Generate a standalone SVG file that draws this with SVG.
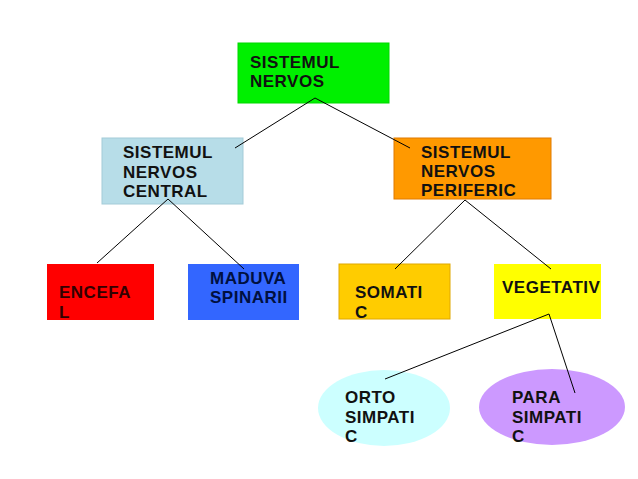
<svg xmlns="http://www.w3.org/2000/svg" width="638" height="479" viewBox="0 0 638 479">
<style>
text{font-family:"Liberation Sans",Arial,sans-serif;font-weight:bold;font-size:17px;letter-spacing:0.5px;fill:#111}
.c line{stroke:#000;stroke-width:1}
</style>
<rect width="638" height="479" fill="#fff"/>
<g id="n-sistemul-nervos">
<rect x="238" y="43" width="151" height="60" fill="#00f000" stroke="#00d800"/>
<text x="250" y="68">SISTEMUL</text>
<text x="250" y="87">NERVOS</text>
</g>
<g id="n-snc">
<rect x="102" y="138" width="141" height="66" fill="#b7dde8" stroke="#a3cbd8"/>
<text x="123" y="158">SISTEMUL</text>
<text x="123" y="178">NERVOS</text>
<text x="123" y="197">CENTRAL</text>
</g>
<g id="n-snp">
<rect x="394" y="138" width="157" height="61" fill="#ff9900" stroke="#e07b00"/>
<text x="421" y="158">SISTEMUL</text>
<text x="421" y="177">NERVOS</text>
<text x="421" y="196">PERIFERIC</text>
</g>
<g id="n-encefal">
<rect x="47" y="264" width="107" height="56" fill="#ff0000"/>
<text x="59" y="298" style="fill:#300">ENCEFA</text>
<text x="59" y="318" style="fill:#300">L</text>
</g>
<g id="n-maduva">
<rect x="188" y="264" width="111" height="56" fill="#3366ff"/>
<text x="210" y="284" style="fill:#001040">MADUVA</text>
<text x="210" y="303" style="fill:#001040">SPINARII</text>
</g>
<g id="n-somatic">
<rect x="339" y="264" width="111" height="55" fill="#ffcc00" stroke="#e0a800"/>
<text x="355" y="298">SOMATI</text>
<text x="355" y="318">C</text>
</g>
<g id="n-vegetativ">
<rect x="494" y="264" width="107" height="55" fill="#ffff00"/>
<text x="502" y="293">VEGETATIV</text>
</g>
<g id="n-ortosimpatic">
<ellipse cx="384" cy="408" rx="66" ry="38" fill="#ccffff"/>
<text x="345" y="403">ORTO</text>
<text x="345" y="423">SIMPATI</text>
<text x="345" y="442">C</text>
</g>
<g id="n-parasimpatic">
<ellipse cx="552" cy="407" rx="73" ry="38" fill="#cc99ff"/>
<text x="512" y="403">PARA</text>
<text x="512" y="423">SIMPATI</text>
<text x="512" y="442">C</text>
</g>
<g class="c" id="connectors">
<line x1="315" y1="98" x2="235" y2="148"/>
<line x1="315" y1="98" x2="410" y2="148"/>
<line x1="168" y1="199" x2="97" y2="263"/>
<line x1="168" y1="199" x2="244" y2="269"/>
<line x1="465" y1="200" x2="395" y2="269"/>
<line x1="465" y1="200" x2="551" y2="269"/>
<line x1="549" y1="314" x2="385" y2="379"/>
<line x1="549" y1="314" x2="575" y2="393"/>
</g>
</svg>
